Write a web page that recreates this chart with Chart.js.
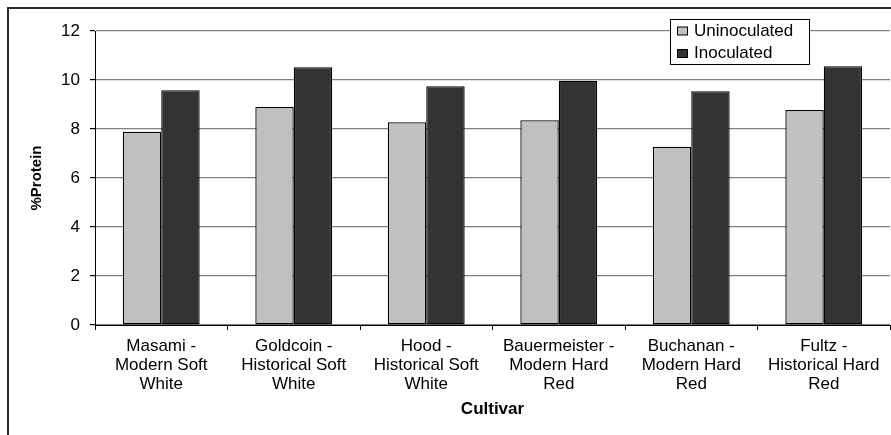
<!DOCTYPE html>
<html>
<head>
<meta charset="utf-8">
<title>%Protein by Cultivar</title>
<script src="https://cdn.jsdelivr.net/npm/chart.js@4/dist/chart.umd.min.js"></script>
<style>
  html, body { margin: 0; padding: 0; background: #fff; }
  #wrap { width: 891px; height: 435px; position: relative; }
</style>
</head>
<body>
<div id="wrap"><canvas id="chart"></canvas></div>
<script>
// Cultivars (x axis), each label split into lines
const cultivars = [
  ['Masami -', 'Modern Soft', 'White'],
  ['Goldcoin -', 'Historical Soft', 'White'],
  ['Hood -', 'Historical Soft', 'White'],
  ['Bauermeister -', 'Modern Hard', 'Red'],
  ['Buchanan -', 'Modern Hard', 'Red'],
  ['Fultz -', 'Historical Hard', 'Red']
];

// Grain protein (%) per cultivar
const uninoculated = [7.89, 8.90, 8.28, 8.36, 7.28, 8.78];
const inoculated   = [9.58, 10.52, 9.75, 9.97, 9.54, 10.56];

const seriesNames = ['Uninoculated', 'Inoculated'];
const yTicks = [0, 2, 4, 6, 8, 10, 12];

const FONT = "'Liberation Sans', Arial, sans-serif";

// White page with the outer chart frame (top and left edges visible)
const framePlugin = {
  id: 'frame',
  beforeDraw(chart) {
    const ctx = chart.ctx;
    ctx.save();
    ctx.fillStyle = '#fff';
    ctx.fillRect(0, 0, chart.width, chart.height);
    ctx.strokeStyle = '#2b2b2b';
    ctx.lineWidth = 2;
    ctx.beginPath();
    ctx.moveTo(8, chart.height + 5);
    ctx.lineTo(8, 8);
    ctx.lineTo(chart.width + 5, 8);
    ctx.stroke();
    ctx.restore();
  }
};

// Boxed legend floating over the upper right of the plot
const boxLegend = {
  id: 'boxLegend',
  afterDraw(chart) {
    const ctx = chart.ctx;
    const sets = chart.data.datasets;
    ctx.save();
    ctx.font = '17px ' + FONT;
    let tw = 0;
    sets.forEach(ds => { tw = Math.max(tw, ctx.measureText(ds.label).width); });
    const x = 670, y = 19, rowH = 22.5;
    const w = Math.max(139, tw + 36), h = 45;
    ctx.fillStyle = '#fff';
    ctx.fillRect(x, y, w, h);
    ctx.strokeStyle = '#000';
    ctx.lineWidth = 1;
    ctx.strokeRect(x + 0.5, y + 0.5, w, h);
    sets.forEach((ds, i) => {
      const cy = y + 12 + i * rowH;
      ctx.fillStyle = ds.backgroundColor;
      ctx.fillRect(x + 7.5, cy - 4, 10, 8);
      ctx.strokeStyle = '#000';
      ctx.strokeRect(x + 7.5, cy - 4, 10, 8);
      ctx.fillStyle = '#000';
      ctx.textBaseline = 'middle';
      ctx.textAlign = 'left';
      ctx.fillText(ds.label, x + 24, cy);
    });
    ctx.restore();
  }
};

new Chart(document.getElementById('chart'), {
  type: 'bar',
  data: {
    labels: cultivars,
    datasets: [
      {
        label: seriesNames[0],
        data: uninoculated,
        backgroundColor: '#c0c0c0',
        borderColor: '#000',
        borderWidth: 1.3,
        borderSkipped: false
      },
      {
        label: seriesNames[1],
        data: inoculated,
        backgroundColor: '#333333',
        borderColor: '#000',
        borderWidth: 1.3,
        borderSkipped: false
      }
    ]
  },
  options: {
    responsive: true,
    maintainAspectRatio: false,
    animation: false,
    devicePixelRatio: 1,
    layout: { padding: { top: 31, right: 1, left: 0, bottom: 0 } },
    datasets: { bar: { categoryPercentage: 0.58, barPercentage: 1.0 } },
    plugins: {
      legend: { display: false },
      tooltip: { enabled: false }
    },
    scales: {
      x: {
        afterFit(scale) { scale.height = 110; },
        grid: {
          offset: true,
          drawOnChartArea: false,
          drawTicks: true,
          tickLength: 5,
          color: '#000',
          tickColor: '#000'
        },
        border: { display: true, color: '#000', width: 1 },
        ticks: {
          color: '#000',
          padding: 7,
          maxRotation: 0,
          autoSkip: false,
          font: { family: FONT, size: 17, lineHeight: '19px' }
        },
        title: {
          display: true,
          text: 'Cultivar',
          color: '#000',
          font: { family: FONT, size: 17, weight: 'bold' },
          padding: { top: 0, bottom: 15 }
        }
      },
      y: {
        min: 0,
        max: 12,
        afterFit(scale) { scale.width = 95; },
        afterBuildTicks(scale) { scale.ticks = yTicks.map(v => ({ value: v })); },
        grid: {
          color: '#808080',
          lineWidth: 1.2,
          tickLength: 5,
          tickColor: '#000'
        },
        border: { display: true, color: '#000', width: 1 },
        ticks: {
          color: '#000',
          padding: 10,
          font: { family: FONT, size: 17 }
        },
        title: {
          display: true,
          text: '%Protein',
          color: '#000',
          font: { family: FONT, size: 15, weight: 'bold' },
          padding: { top: 28, bottom: 0 }
        }
      }
    }
  },
  plugins: [framePlugin, boxLegend]
});
</script>
</body>
</html>
